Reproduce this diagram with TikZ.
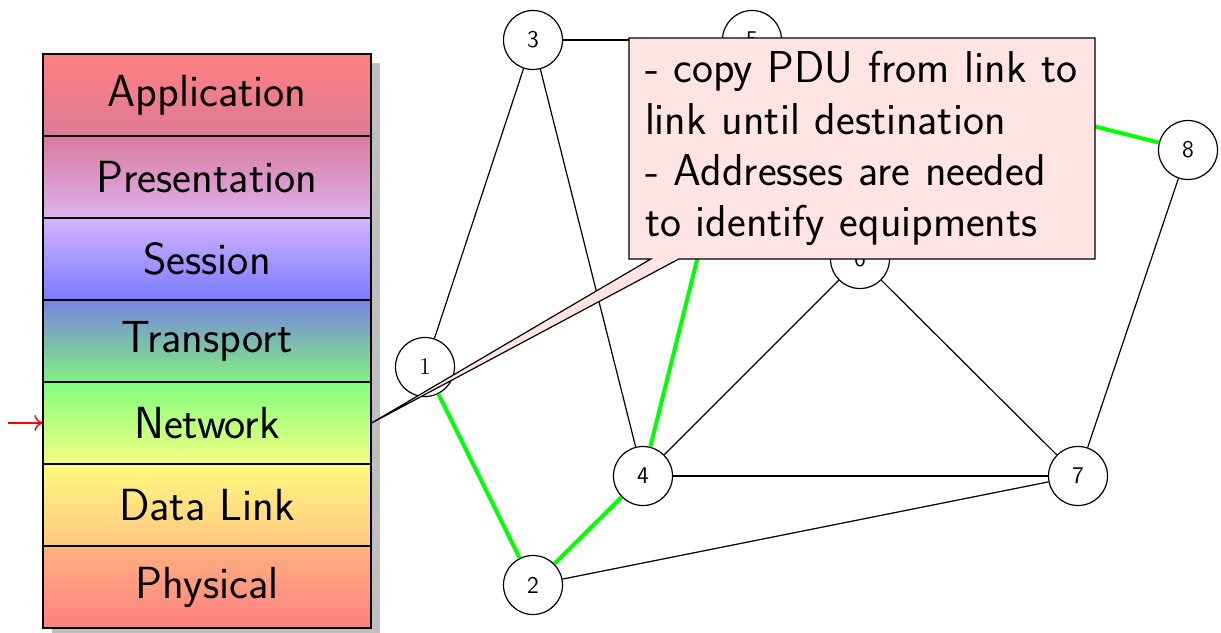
\documentclass[tikz,border=0pt]{standalone}
\usetikzlibrary{shapes.callouts,arrows.meta}
\definecolor{appT}{RGB}{255,128,128}
\definecolor{appB}{RGB}{222,122,150}
\definecolor{presT}{RGB}{218,122,158}
\definecolor{presB}{RGB}{222,178,238}
\definecolor{sessT}{RGB}{212,180,255}
\definecolor{sessB}{RGB}{122,122,255}
\definecolor{transT}{RGB}{120,132,225}
\definecolor{transB}{RGB}{128,240,128}
\definecolor{netT}{RGB}{128,255,128}
\definecolor{netB}{RGB}{245,255,128}
\definecolor{dlT}{RGB}{255,250,128}
\definecolor{dlB}{RGB}{255,200,128}
\definecolor{phyT}{RGB}{255,178,128}
\definecolor{phyB}{RGB}{255,128,128}
\definecolor{notefill}{RGB}{255,228,228}
\tikzset{
  every path/.style={line width=0.6pt},
  layer/.style={draw, minimum width=164pt, minimum height=41pt, inner sep=0pt,
    font=\sffamily\fontsize{22.5}{26}\selectfont},
  router/.style={draw, circle, fill=white, minimum size=29.5pt, inner sep=0pt,
    font=\sffamily\large},
  link/.style={draw, black},
  route/.style={draw, green, line width=2pt},
  note/.style={rectangle callout, draw, fill=notefill,
    font=\sffamily\fontsize{22.3}{25.6}\selectfont,
    align=left, text width=217pt, minimum width=233pt, minimum height=110.5pt,
    inner xsep=8pt, callout pointer width=14pt}
}
\begin{document}
\begin{tikzpicture}[x=0.5pt,y=-0.5pt]
\useasboundingbox (0,0) rectangle (1221,632);
% shadow behind the layer stack
\fill[black!25] (52,63) rectangle (380,640);
% OSI layers
\node[layer, top color=appT,   bottom color=appB]   (app)   at (207,95)  {Application};
\node[layer, top color=presT,  bottom color=presB]  (pres)  at (207,177) {Presentation};
\node[layer, top color=sessT,  bottom color=sessB]  (sess)  at (207,259) {Session};
\node[layer, top color=transT, bottom color=transB] (trans) at (207,341) {Transport};
\node[layer, top color=netT,   bottom color=netB]   (net)   at (207,423) {Network};
\node[layer, top color=dlT,    bottom color=dlB]    (dl)    at (207,505) {Data Link};
\node[layer, top color=phyT,   bottom color=phyB]   (phy)   at (207,587) {Physical};
% marker for the current layer
\coordinate (mark) at (8,423);
\draw[red, line width=0.7pt, -{To[length=4pt,width=8pt]}] (mark) -- (net.west);
% routers
\node[router, font=\rmfamily\large] (n1) at (425,367)  {1};
\node[router] (n2) at (533,585)  {2};
\node[router] (n3) at (533,40)   {3};
\node[router] (n4) at (643,476)  {4};
\node[router] (n5) at (752,40)   {5};
\node[router] (n6) at (860,259)  {6};
\node[router] (n7) at (1078,476) {7};
\node[router] (n8) at (1188,150) {8};
% links
\path[link] (n1) -- (n3);
\path[link] (n3) -- (n5);
\path[link] (n3) -- (n4);
\path[link] (n4) -- (n6);
\path[link] (n4) -- (n7);
\path[link] (n6) -- (n7);
\path[link] (n2) -- (n7);
\path[link] (n7) -- (n8);
% selected route
\path[route] (n1) -- (n2);
\path[route] (n2) -- (n4);
\path[route] (n4) -- (n5);
\path[route] (n5) -- (n8);
% note on the network layer
\node[note, callout absolute pointer={(net.east)}] (msg) at (862,148.5)
  {- copy PDU from link to\\
   link until destination\\
   - Addresses are needed\\
   to identify equipments};
\end{tikzpicture}
\end{document}
